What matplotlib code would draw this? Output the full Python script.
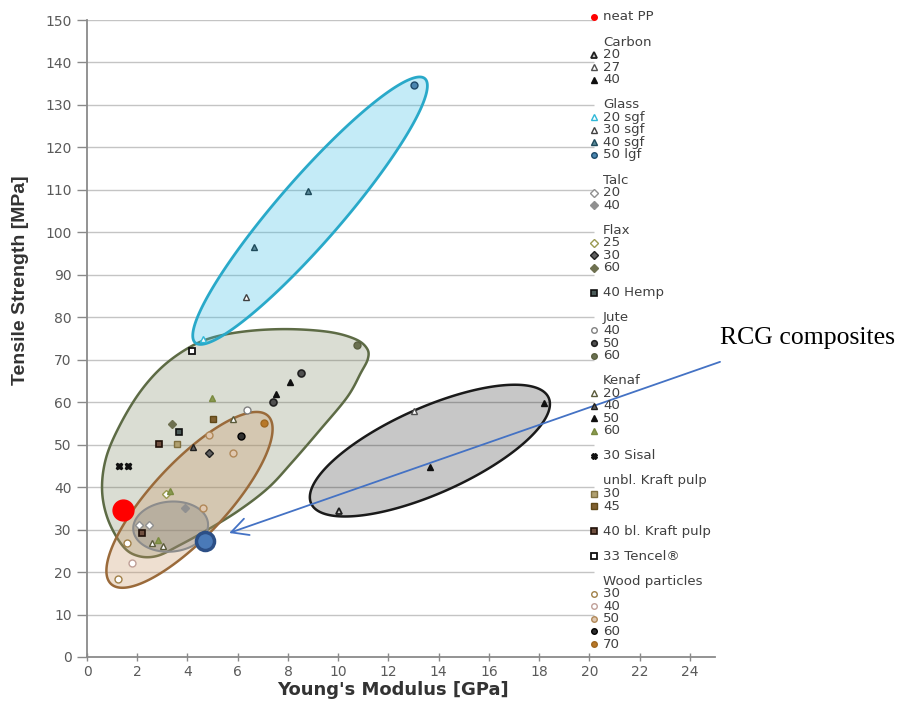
import numpy as np
import matplotlib
matplotlib.use("Agg")
import matplotlib.pyplot as plt
from matplotlib.colors import to_rgba
from matplotlib.patches import Polygon
from matplotlib.lines import Line2D

# ---- data (Young's modulus [GPa], tensile strength [MPa]) ----
neat_pp = ([1.45], [34.5])
rcg = ([4.70], [27.2])

carbon_20 = ([10.05], [34.3])
carbon_27 = ([13.0], [57.9])
carbon_40 = ([18.18, 13.67], [59.9, 44.8])

glass_20 = ([4.63], [75.0])
glass_30 = ([6.33], [84.7])
glass_40 = ([6.63, 8.79], [96.6, 109.7])
glass_50 = ([13.0], [134.8])

talc_20 = ([2.08, 2.48], [31.1, 31.1])
talc_40 = ([3.90], [35.0])

flax_25 = ([3.15], [38.5])
flax_30 = ([4.86], [48.1])
flax_60 = ([3.37], [54.9])

hemp_40 = ([3.68], [52.9])

jute_40 = ([6.36], [58.2])
jute_50 = ([7.40, 8.51], [60.1, 66.9])
jute_60 = ([10.74], [73.5])

kenaf_20 = ([5.83, 2.58, 3.01], [56.0, 26.8, 26.1])
kenaf_40 = ([4.20], [49.4])
kenaf_50 = ([8.09, 7.53], [64.8, 61.9])
kenaf_60 = ([4.97, 3.31, 2.84], [61.1, 39.2, 27.5])

sisal_30 = ([1.29, 1.65], [45.0, 45.0])

unbl_kraft_30 = ([3.60], [50.1])
unbl_kraft_45 = ([5.03], [56.0])
bl_kraft_40 = ([2.87, 2.18], [50.1, 29.1])
tencel_33 = ([4.17], [72.1])

wood_30 = ([1.58, 1.25], [26.9, 18.3])
wood_40 = ([1.78], [22.1])
wood_50 = ([4.87, 5.83, 4.63], [52.3, 48.1, 35.0])
wood_60 = ([6.14], [52.0])
wood_70 = ([7.03], [55.0])

# outline of the natural-fibre cluster (data units)
natural_outline = [
    (1.43, 26.1), (0.84, 32.3), (0.60, 39.3), (0.76, 46.9), (1.31, 54.6),
    (2.11, 62.4), (3.03, 68.5), (4.10, 73.0), (5.10, 75.4), (6.49, 76.8),
    (8.09, 77.2), (9.68, 76.5), (10.70, 74.8), (11.15, 72.6), (11.18, 70.2),
    (10.90, 66.9), (10.36, 61.2), (9.28, 53.5), (8.17, 45.9), (7.21, 39.8),
    (6.02, 34.4), (4.78, 29.9), (3.71, 26.4), (2.79, 23.8), (2.03, 23.8),
]
# cluster ellipses: centre (data)
glass_ell = (8.88, 105.1)
carbon_ell = (13.65, 48.6)
wood_ell = (4.08, 37.0)
talc_ell = (3.33, 30.7)

yticks = list(range(0, 151, 10))
xticks = list(range(0, 25, 2))

# ---- marker styles ----
STY = {
    "pp": dict(marker="o", ms=4, mfc="#ff0000", mec="#ff0000"),
    "c20": dict(marker="^", ms=5, mfc="#c8c8c8", mec="#202020", mew=1.3),
    "c27": dict(marker="^", ms=5, mfc="white", mec="#505050", mew=1),
    "c40": dict(marker="^", ms=5, mfc="#101010", mec="#101010"),
    "g20": dict(marker="^", ms=5, mfc="white", mec="#30b8d8", mew=1),
    "g30": dict(marker="^", ms=5, mfc="white", mec="#404040", mew=1),
    "g40": dict(marker="^", ms=5, mfc="#5a8a9a", mec="#1e4a5a", mew=1),
    "g50": dict(marker="o", ms=5, mfc="#4a86b0", mec="#1e4a6a", mew=1),
    "t20": dict(marker="D", ms=4, mfc="white", mec="#909090", mew=1),
    "t40": dict(marker="D", ms=4, mfc="#909090", mec="#909090"),
    "f25": dict(marker="D", ms=4, mfc="white", mec="#9a9a50", mew=1),
    "f30": dict(marker="D", ms=4, mfc="#606060", mec="#202020", mew=1),
    "f60": dict(marker="D", ms=4, mfc="#6e7050", mec="#6e7050"),
    "h40": dict(marker="s", ms=5, mfc="#4a5a58", mec="#101010", mew=1.2),
    "j40": dict(marker="o", ms=5, mfc="white", mec="#808080", mew=1),
    "j50": dict(marker="o", ms=5, mfc="#505050", mec="#202020", mew=1.2),
    "j60": dict(marker="o", ms=5, mfc="#6a7050", mec="#5a6040"),
    "k20": dict(marker="^", ms=5, mfc="white", mec="#5a5a3a", mew=1),
    "k40": dict(marker="^", ms=5, mfc="#606060", mec="#202020", mew=1),
    "k50": dict(marker="^", ms=5, mfc="#101010", mec="#101010"),
    "k60": dict(marker="^", ms=5, mfc="#8a9a50", mec="#7a8a40"),
    "s30": dict(marker="X", ms=5, mfc="#101010", mec="#101010"),
    "u30": dict(marker="s", ms=5, mfc="#b0a070", mec="#807040", mew=1),
    "u45": dict(marker="s", ms=5, mfc="#806030", mec="#604818", mew=1),
    "b40": dict(marker="s", ms=5, mfc="#705040", mec="#201008", mew=1.2),
    "te33": dict(marker="s", ms=5, mfc="white", mec="#101010", mew=1.3),
    "w30": dict(marker="o", ms=5, mfc="white", mec="#a08048", mew=1),
    "w40": dict(marker="o", ms=5, mfc="white", mec="#c0a098", mew=1),
    "w50": dict(marker="o", ms=5, mfc="#e0c8b0", mec="#b08858", mew=1),
    "w60": dict(marker="o", ms=5, mfc="#303030", mec="#000000", mew=1),
    "w70": dict(marker="o", ms=5, mfc="#b87828", mec="#a06820"),
}

series = [
    ("c20", carbon_20), ("c27", carbon_27), ("c40", carbon_40),
    ("g20", glass_20), ("g30", glass_30), ("g40", glass_40), ("g50", glass_50),
    ("t20", talc_20), ("t40", talc_40),
    ("f25", flax_25), ("f30", flax_30), ("f60", flax_60),
    ("h40", hemp_40),
    ("j40", jute_40), ("j50", jute_50), ("j60", jute_60),
    ("k20", kenaf_20), ("k40", kenaf_40), ("k50", kenaf_50), ("k60", kenaf_60),
    ("s30", sisal_30),
    ("u30", unbl_kraft_30), ("u45", unbl_kraft_45), ("b40", bl_kraft_40),
    ("te33", tencel_33),
    ("w30", wood_30), ("w40", wood_40), ("w50", wood_50), ("w60", wood_60), ("w70", wood_70),
]

legend_rows = [
    ("neat PP", "pp"), None,
    ("Carbon", None), ("20", "c20"), ("27", "c27"), ("40", "c40"), None,
    ("Glass", None), ("20 sgf", "g20"), ("30 sgf", "g30"), ("40 sgf", "g40"), ("50 lgf", "g50"), None,
    ("Talc", None), ("20", "t20"), ("40", "t40"), None,
    ("Flax", None), ("25", "f25"), ("30", "f30"), ("60", "f60"), None,
    ("40 Hemp", "h40"), None,
    ("Jute", None), ("40", "j40"), ("50", "j50"), ("60", "j60"), None,
    ("Kenaf", None), ("20", "k20"), ("40", "k40"), ("50", "k50"), ("60", "k60"), None,
    ("30 Sisal", "s30"), None,
    ("unbl. Kraft pulp", None), ("30", "u30"), ("45", "u45"), None,
    ("40 bl. Kraft pulp", "b40"), None,
    ("33 Tencel®", "te33"), None,
    ("Wood particles", None), ("30", "w30"), ("40", "w40"), ("50", "w50"), ("60", "w60"), ("70", "w70"),
]


def ellipse_xy(ax, centre, a_px, b_px, ang):
    t = np.linspace(0, 2 * np.pi, 240)
    cx, cy = ax.transData.transform(centre)
    th = np.radians(ang)
    px = cx + a_px * np.cos(t) * np.cos(th) - b_px * np.sin(t) * np.sin(th)
    py = cy + a_px * np.cos(t) * np.sin(th) + b_px * np.sin(t) * np.cos(th)
    return ax.transData.inverted().transform(np.column_stack([px, py]))


def closed_spline(pts, n=24):
    P = np.asarray(pts, dtype=float)
    N = len(P)
    out = []
    for i in range(N):
        p0, p1, p2, p3 = P[i - 1], P[i], P[(i + 1) % N], P[(i + 2) % N]
        for t in np.linspace(0, 1, n, endpoint=False):
            out.append(0.5 * (2 * p1 + (-p0 + p2) * t
                              + (2 * p0 - 5 * p1 + 4 * p2 - p3) * t * t
                              + (-p0 + 3 * p1 - 3 * p2 + p3) * t ** 3))
    return np.array(out)


def blob(ax, xy, face, alpha, edge, lw, z):
    ax.add_patch(Polygon(xy, closed=True, facecolor=to_rgba(face, alpha),
                         edgecolor=edge, lw=lw, zorder=z))


W, H = 906, 702
fig = plt.figure(figsize=(W / 100, H / 100), dpi=100)
ax = fig.add_axes([87 / W, 45 / H, (715 - 87) / W, (657 - 20) / H])
ax.set_xlim(0, 25)
ax.set_ylim(0, 150)

tick_font = dict(family="DejaVu Sans", size=10, color="#5a5a5a")
ax.set_xticks(xticks)
ax.set_yticks(yticks)
ax.set_xticklabels([str(v) for v in xticks], **tick_font)
ax.set_yticklabels([str(v) for v in yticks], **tick_font)
ax.tick_params(axis="y", direction="out", length=7, width=1, color="#8a8a8a", pad=4)
ax.tick_params(axis="x", direction="inout", length=6, width=1, color="#8a8a8a", pad=3)
for s in ("top", "right"):
    ax.spines[s].set_visible(False)
for s in ("left", "bottom"):
    ax.spines[s].set_color("#8a8a8a")
    ax.spines[s].set_linewidth(1.3)

# gridlines stop where the legend begins
ax.hlines(yticks[1:], 0, 20.2, colors="#c4c4c4", lw=1, zorder=0.5)

# cluster shapes
blob(ax, closed_spline(natural_outline), "#6e7850", 0.25, "#5d6b45", 1.8, 1)
blob(ax, ellipse_xy(ax, wood_ell, 115, 37.5, 47), "#c89664", 0.3, "#9a6a3a", 1.8, 2)
blob(ax, ellipse_xy(ax, talc_ell, 37.5, 25, 5), "#787878", 0.3, "#8c8c8c", 1.5, 3)
blob(ax, ellipse_xy(ax, glass_ell, 175, 32, 49), "#3cbee6", 0.3, "#29a9c9", 2, 2)
blob(ax, ellipse_xy(ax, carbon_ell, 130, 43, 24), "#000000", 0.22, "#1a1a1a", 1.8, 2)

for key, (xs, ys) in series:
    ax.plot(xs, ys, ls="none", zorder=5, **STY[key])

ax.plot(*neat_pp, ls="none", marker="o", ms=15, mfc="#ff0000", mec="#ff0000", zorder=6)
ax.plot(*rcg, ls="none", marker="o", ms=13, mfc="#4a7ab8", mec="#2c4f86", mew=2.5, zorder=6)

# legend column (drawn as in the source figure)
for i, row in enumerate(legend_rows):
    if row is None:
        continue
    label, key = row
    yf = 1 - (17 + i * 12.54) / H
    if key is not None:
        st = dict(STY[key])
        st["ms"] = 4
        fig.add_artist(Line2D([594 / W], [yf], transform=fig.transFigure, ls="none", **st))
    fig.text(603 / W, yf, label, family="DejaVu Sans", size=9.6, color="#404040",
             ha="left", va="center")

fig.text(393 / W, 1 - 690 / H, "Young's Modulus [GPa]", family="DejaVu Sans",
         weight="bold", size=13, color="#333333", ha="center", va="center")
fig.text(21 / W, 1 - 280 / H, "Tensile Strength [MPa]", family="Liberation Sans",
         weight="bold", size=14, color="#333333", rotation=90, ha="center", va="center")

# RCG annotation
ax.annotate("", xy=(5.66, 29.2), xytext=(25.2, 69.5),
            arrowprops=dict(arrowstyle="->,head_length=1.2,head_width=0.62",
                            color="#4472c4", lw=1.3, mutation_scale=10,
                            shrinkA=0, shrinkB=0),
            annotation_clip=False, zorder=7)
fig.text(720 / W, 1 - 338 / H, "RCG composites", family="Liberation Serif",
         size=18.5, color="#000000", ha="left", va="center")

fig.savefig("out.png", dpi=100)
